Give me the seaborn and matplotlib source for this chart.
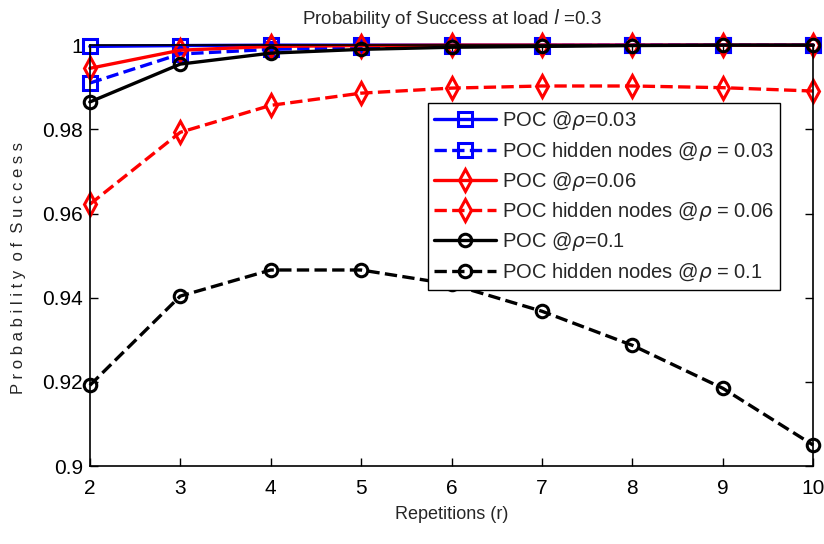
import matplotlib
matplotlib.use("Agg")
import matplotlib.pyplot as plt
import seaborn as sns
import pandas as pd
from matplotlib import font_manager

sns.set_style("white")
names = {f.name for f in font_manager.fontManager.ttflist}
narrow = "Liberation Sans Narrow" if "Liberation Sans Narrow" in names else "Liberation Sans"
plt.rcParams["font.family"] = [narrow, "DejaVu Sans"]
plt.rcParams["mathtext.fontset"] = "dejavusans"

repetitions = [2, 3, 4, 5, 6, 7, 8, 9, 10]
poc_003 = [0.9997, 0.9999, 1.0, 1.0, 1.0, 1.0, 1.0, 1.0, 1.0]
hidden_003 = [0.9910, 0.9979, 0.9990, 0.9995, 0.9998, 0.9999, 1.0, 1.0, 1.0]
poc_006 = [0.9945, 0.9988, 0.9997, 0.9999, 1.0, 1.0, 1.0, 1.0, 1.0]
hidden_006 = [0.9622, 0.9793, 0.9857, 0.9886, 0.9898, 0.9903, 0.9903, 0.9899, 0.9891]
poc_01 = [0.9865, 0.9955, 0.9981, 0.9990, 0.9995, 0.9997, 0.9999, 1.0, 1.0]
hidden_01 = [0.9192, 0.9404, 0.9466, 0.9466, 0.9432, 0.9368, 0.9287, 0.9185, 0.9050]

labels = [
    r"POC @$\rho$=0.03",
    r"POC hidden nodes @$\rho$ = 0.03",
    r"POC @$\rho$=0.06",
    r"POC hidden nodes @$\rho$ = 0.06",
    r"POC @$\rho$=0.1",
    r"POC hidden nodes @$\rho$ = 0.1",
]
series = [poc_003, hidden_003, poc_006, hidden_006, poc_01, hidden_01]
colors = ["#0000ff", "#0000ff", "#ff0000", "#ff0000", "#000000", "#000000"]
styles = ["-", "--", "-", "--", "-", "--"]
markers = ["s", "s", "d", "d", "o", "o"]
msizes = [9.5, 9.5, 11, 11, 9, 9]

fig = plt.figure(figsize=(8.24, 5.44), dpi=100)
ax = fig.add_axes([0.109, 0.143, 0.878, 0.774])

for vals, lab, c, ls, m, ms in zip(series, labels, colors, styles, markers, msizes):
    df = pd.DataFrame({"r": repetitions, "p": vals})
    sns.lineplot(data=df, x="r", y="p", ax=ax, color=c, linestyle=ls, marker=m,
                 markersize=ms, markerfacecolor="none", markeredgecolor=c,
                 markeredgewidth=2.2, linewidth=2.4, label=lab, clip_on=False)

ax.set_xlim(2, 10)
ax.set_ylim(0.9, 1.0)
ax.set_xticks(repetitions)
ax.set_xticklabels([str(v) for v in repetitions])
yt = [0.9, 0.92, 0.94, 0.96, 0.98, 1.0]
ax.set_yticks(yt)
ax.set_yticklabels(["0.9", "0.92", "0.94", "0.96", "0.98", "1"])
ax.tick_params(direction="in", length=6, width=1, labelsize=15, top=True, right=True,
               bottom=True, left=True, colors="black")
ax.tick_params(axis="x", pad=9)
ax.tick_params(axis="y", pad=5)
for s in ax.spines.values():
    s.set_visible(True)
    s.set_color("black")
    s.set_linewidth(1.2)

ax.set_xlabel("Repetitions (r)", fontsize=13, labelpad=6)
ax.set_ylabel("P r o b a b i l i t y  o f  S u c c e s s", fontsize=12,
              family=["Liberation Sans", "DejaVu Sans"])
ax.yaxis.set_label_coords(-0.088, 0.47)
ax.set_title(r"Probability of Success at load $l$ =0.3", fontsize=13.5, pad=15)

leg = ax.legend(loc="upper left", bbox_to_anchor=(0.467, 0.862), fontsize=14.5,
                frameon=True, fancybox=False, edgecolor="black", framealpha=1,
                handlelength=3.1, borderpad=0.3, labelspacing=0.36, handletextpad=0.3,
                borderaxespad=0)
leg.get_frame().set_linewidth(1.0)

fig.savefig("out.png", dpi=100)
